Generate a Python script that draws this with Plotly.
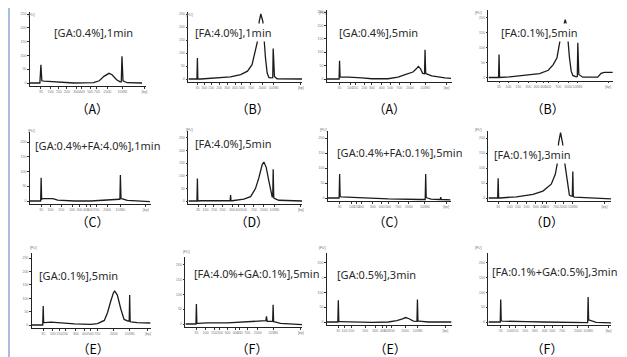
import plotly.graph_objects as go

W, H = 627, 357

# ---- data (x: position along size axis in %, y: fluorescence units) ----
P1_X = [0, 8.6, 9.5, 10.3, 12.4, 18, 29.6, 38, 55, 60, 64, 68.4, 71, 75, 78, 79, 79.6, 80.5, 84, 97]
P1_Y = [0, 0, 66, 8, 7, 6, 2.4, 0, 1, 8, 24, 35, 30, 12, 4, 4, 97, 8, 1, 0]

P2_X = [0, 7.5, 7.9, 8.3, 10.8, 25.4, 37, 46, 52, 56, 59, 61.1, 62.3, 63.7, 65.5, 66.4, 67.8, 69.3, 70.8, 72, 74.2, 74.6, 75.7, 78, 100]
P2_Y = [0, 0, 81, 0, 0, 3, 8, 17, 30, 55, 106, 151, 222, 250, 222, 151, 81, 23, 6, 4, 5, 117, 10, 1, 0]

P3_X = [0, 9.7, 10.1, 10.5, 12, 17.3, 28, 36, 49, 57, 62.7, 66.7, 69, 71.5, 73.3, 75, 76.8, 78.3, 78.7, 79.2, 80, 84, 89, 94.7, 99.5]
P3_Y = [0, 0, 68, 8, 7, 7, 4, 1, 1, 7, 16, 22, 26, 37, 47, 39, 21, 20, 109, 22, 19, 12, 7, 4, 2]

P4_X = [0, 8.1, 8.5, 8.9, 17, 30, 41, 48, 52, 55, 56.5, 57.6, 60.3, 61.6, 62.9, 63.7, 65, 66.4, 67.7, 70.4, 71.3, 71.7, 72.5, 75.7, 87.7, 90.4, 93, 99.7]
P4_Y = [0, 0, 77, 0, 2, 7, 13, 24, 43, 66, 99, 127, 171, 193, 171, 127, 66, 21, 7, 2, 3, 116, 10, 1, 1, 14, 17, 17]

P5_X = [0, 8.9, 9.3, 9.7, 10.7, 14.8, 19, 23, 36.8, 50.5, 58.8, 69.8, 74, 74.6, 75, 75.5, 76, 80.8, 99.5]
P5_Y = [0, 0, 79, 6, 8, 9, 8, 3, 0, 0, 3, 4.5, 6, 6, 88, 10, 8, 2, -2]

P6_X = [0, 7.5, 7.9, 8.3, 10.8, 36.7, 37.1, 37.5, 38.5, 48.8, 54.7, 59, 62, 65, 66.4, 68.4, 70.8, 72.8, 73.7, 74.2, 74.6, 75.1, 75.7, 79.5, 100]
P6_Y = [0, 0, 89, 0, 1, 1, 24, 1, 1, 7, 17, 49, 92, 145, 154, 134, 79, 26, 16, 16, 125, 12, 10, 3, 0]

P7_X = [0, 9.1, 9.5, 9.9, 10.8, 22, 35.7, 49, 76, 79.3, 79.7, 80.1, 81, 84, 91, 91.6, 92, 92.4, 100]
P7_Y = [0, 0, 80, 6, 4, 2, -1, -3, -5, -5, 80, 2, 0, -4, -5, -5, 3, -5, -6]

P8_X = [0, 7.5, 7.9, 8.3, 9.2, 22.8, 36.3, 44.4, 51.2, 54.5, 56, 57.2, 58.8, 60.4, 62, 64, 66, 67.5, 68.4, 68.8, 69.2, 70.2, 82.4, 92, 100]
P8_Y = [0, 0, 66, 0, 0, 4, 12, 23, 46, 79, 112, 184, 218, 184, 123, 57, 10, 6, 6, 88, 5, 3, 0, 0, -3]

P9_X = [0, 9.1, 9.5, 9.9, 10.6, 16.2, 21.8, 35.8, 49.7, 55.3, 61, 63.7, 66.5, 68.7, 69.8, 72, 75, 77.7, 81, 82, 82.4, 82.8, 83.5, 88.8, 100]
P9_Y = [0, 0, 71, 9, 9, 11, 9, 4, 2.5, 5, 17, 46, 90, 121, 127, 112, 59, 21, 15, 15, 112, 13, 12, 9, 7.5]

P10_X = [0, 9.0, 9.4, 9.8, 10.8, 18.8, 35.9, 47.3, 58.7, 65.8, 68.9, 69.5, 70.1, 73.5, 74.8, 75.2, 75.6, 76.6, 81.5, 100]
P10_Y = [0, 0, 67, 2, 2, 4, 4, 6, 9, 10, 11, 26, 9, 9, 9, 65, 8, 7, 2, -2]

P11_X = [0, 8.7, 9.1, 9.5, 10.2, 22.7, 36, 49.3, 56, 60, 63.2, 65.9, 69.3, 72.2, 72.6, 73, 73.9, 81.3, 100]
P11_Y = [0, 0, 73, 1, 1, -1, -1, 0, 4.5, 10, 15, 11, 3, 2, 76, 3, 3, 0, 0]

P12_X = [0, 9.6, 10, 10.4, 11.4, 20, 31, 44.4, 71.5, 79.7, 80.9, 81.3, 81.7, 82.4, 87.8, 100]
P12_Y = [0, 0, 76, 4, 3, 3, 1, 0, -2, -2, -2, 84, 6, 6, -1, -3]

TICK_LABELS = ["35", "100", "150", "200", "300", "400", "500", "700", "2000", "10380", "[bp]"]
P_TICKS = [
    [9.5, 18, 25, 32, 40, 45, 52, 58, 67, 80, 99],
    [8, 14, 20, 27, 34, 41, 47, 55, 65, 75, 99],
    [10, 18.7, 22.7, 30, 36, 44, 50.7, 58, 66.7, 78.7, 96],
    [8.5, 16, 24, 32, 38.5, 44, 48, 56, 64, 71.5, 96],
    [9.3, 17, 26, 35, 41, 46.5, 50, 55, 64, 75, 96],
    [8.5, 15, 22.5, 30, 38.6, 44, 49, 57.6, 66.4, 75.7, 99],
    [9.5, 19.5, 23.5, 27, 36.5, 43.8, 49, 57.3, 66, 79, 96.5],
    [7.9, 17.3, 24, 31, 38.5, 44.4, 47, 55, 61, 68.8, 94.6],
    [9.5, 17.6, 23, 28, 37, 44.7, 49.7, 55, 69, 82.4, 97.8],
    [9.4, 17.4, 24.5, 29.6, 36, 43, 46.7, 53, 62, 75.2, 99],
    [9, 14, 19.5, 30.7, 38.7, 44.8, 48, 52, 62.7, 72.8, 95],
    [10, 17.3, 22, 30, 37.7, 45.8, 52, 60, 73, 81.3, 98],
]
Y_TICKS = [0, 50, 100, 150, 200, 250]

TITLES = ["[GA:0.4%],1min", "[FA:4.0%],1min", "[GA:0.4%],5min", "[FA:0.1%],5min",
          "[GA:0.4%+FA:4.0%],1min", "[FA:4.0%],5min", "[GA:0.4%+FA:0.1%],5min", "[FA:0.1%],3min",
          "[GA:0.1%],5min", "[FA:4.0%+GA:0.1%],5min", "[GA:0.5%],3min", "[FA:0.1%+GA:0.5%],3min"]
LETTERS = ["A", "B", "A", "B", "C", "D", "C", "D", "E", "F", "E", "F"]

SERIES = [(P1_X, P1_Y), (P2_X, P2_Y), (P3_X, P3_Y), (P4_X, P4_Y), (P5_X, P5_Y), (P6_X, P6_Y),
          (P7_X, P7_Y), (P8_X, P8_Y), (P9_X, P9_Y), (P10_X, P10_Y), (P11_X, P11_Y), (P12_X, P12_Y)]

# ---- layout geometry (pixels): x0, x1, axis top, zero line, px per FU ----
BOXES = [
    (22, 138, 4, 75, 0.276), (181, 295, 4, 71, 0.26), (320, 445, 2, 71, 0.268), (482, 607, 2, 69.5, 0.30),
    (22, 143, 124, 193, 0.295), (181, 295, 123, 193, 0.253), (321, 444, 123, 190, 0.30), (482, 605, 123, 190, 0.30),
    (24, 143, 245, 317, 0.267), (178, 295, 249, 316, 0.297), (320, 445, 245, 314, 0.297), (482, 605, 245, 314, 0.297),
]
TITLE_POS = [(44, 25, "left"), (186, 25, "left"), (330, 25, "left"), (493, 25, "left"),
             (25, 137, "left"), (186, 135, "left"), (328, 144, "left"), (486, 146, "left"),
             (29, 267, "left"), (185, 265, "left"), (328, 266, "left"), (484, 263, "left")]
LETTER_POS = [(85, 100), (245, 100), (383, 100), (541, 100),
              (85, 213), (245, 213), (383, 213), (541, 213),
              (85, 340), (245, 340), (383, 340), (541, 340)]

fig = go.Figure()
layout = dict(width=W, height=H, margin=dict(l=0, r=0, t=0, b=0), paper_bgcolor="white",
              plot_bgcolor="white", showlegend=False)
annotations = []
PAD = 3

for i, ((x0, x1, ytop, base, ppf), (xs, ys)) in enumerate(zip(BOXES, SERIES)):
    n = i + 1
    sfx = "" if n == 1 else str(n)
    ymax = (base - ytop) / ppf
    ymin = -PAD / ppf
    fig.add_trace(go.Scatter(x=xs, y=ys, mode="lines", xaxis="x" + sfx, yaxis="y" + sfx,
                             line=dict(color="#1c1c1c", width=1.3), hoverinfo="skip", cliponaxis=False))
    layout["xaxis" + sfx] = dict(domain=[x0 / W, x1 / W], range=[0, 100], anchor="y" + sfx,
                                 showline=True, linecolor="#222", linewidth=0.8, showgrid=False,
                                 zeroline=False, ticks="outside", ticklen=2, tickwidth=0.6,
                                 tickcolor="#333", tickvals=P_TICKS[i], ticktext=TICK_LABELS,
                                 tickfont=dict(size=3.5, color="#777", family="Arial"), tickangle=0)
    layout["yaxis" + sfx] = dict(domain=[1 - (base + PAD) / H, 1 - ytop / H], range=[ymin, ymax],
                                 anchor="x" + sfx, showline=True, linecolor="#222", linewidth=0.8,
                                 showgrid=False, zeroline=False, ticks="outside", ticklen=2,
                                 tickwidth=0.6, tickcolor="#333",
                                 tickvals=[v for v in Y_TICKS if v <= ymax],
                                 tickfont=dict(size=3.5, color="#777", family="Arial"))
    annotations.append(dict(text="[FU]", x=(x0 - 4) / W, y=1 - (ytop - 1) / H, xref="paper", yref="paper",
                            showarrow=False, font=dict(size=3.5, color="#777", family="Arial")))
    tx, ty, anc = TITLE_POS[i]
    annotations.append(dict(text=TITLES[i], x=tx / W, y=1 - ty / H, xref="paper", yref="paper",
                            xanchor=anc, yanchor="middle", showarrow=False, bgcolor="white", borderpad=1,
                            font=dict(size=11, color="#2a2a2a", family="Noto Sans")))
    lx, ly = LETTER_POS[i]
    annotations.append(dict(text="（" + LETTERS[i] + "）", x=lx / W, y=1 - ly / H, xref="paper", yref="paper",
                            xanchor="center", yanchor="middle", showarrow=False,
                            font=dict(size=12.5, color="#000", family="Noto Sans CJK SC")))

layout["annotations"] = annotations
layout["shapes"] = [dict(type="rect", xref="paper", yref="paper", x0=0, x1=2 / W, y0=0, y1=1,
                         fillcolor="#a9bddc", line=dict(width=0))]
fig.update_layout(**layout)
fig.write_html("out.html")
